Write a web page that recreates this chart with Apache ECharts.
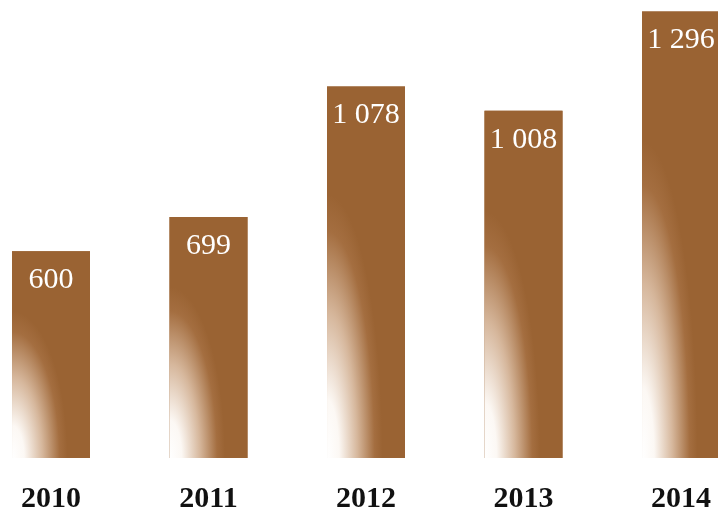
<!DOCTYPE html>
<html>
<head>
<meta charset="utf-8">
<script src="https://cdn.jsdelivr.net/npm/echarts@6/dist/echarts.min.js"></script>
<style>
html,body{margin:0;padding:0;background:#fff;}
#chart{width:718px;height:518px;}
</style>
</head>
<body>
<div id="chart"></div>
<script>
var categories = ['2010', '2011', '2012', '2013', '2014'];
var values = [600, 699, 1078, 1008, 1296];

var BROWN = '#9a6333';
var FONT = '"Liberation Serif", "Times New Roman", serif';

function fmt(v) {
  return String(v).replace(/\B(?=(\d{3})+(?!\d))/g, ' ');
}

var chart = echarts.init(document.getElementById('chart'));

function renderItem(params, api) {
  var idx = api.value(0);
  var val = api.value(1);
  var top = api.coord([idx, val]);
  var base = api.coord([idx, 0]);
  var bw = api.size([1, 0])[0] * 0.495;
  var x = top[0] - bw / 2;
  var y = top[1];
  var h = base[1] - top[1];
  var grad = new echarts.graphic.RadialGradient(0, 1, 0.71, [
    { offset: 0, color: '#ffffff' },
    { offset: 0.22, color: '#fcf8f4' },
    { offset: 0.55, color: '#d6b79c' },
    { offset: 0.86, color: '#a46e40' },
    { offset: 1, color: BROWN }
  ]);
  return {
    type: 'group',
    children: [
      { type: 'rect', shape: { x: x, y: y, width: bw, height: h }, style: { fill: BROWN } },
      { type: 'rect', x: x, y: y, scaleX: 1, scaleY: h / bw,
        shape: { x: 0, y: 0, width: bw, height: bw }, style: { fill: grad } },
      { type: 'text', style: { text: fmt(val), x: top[0], y: y + 14, align: 'center', verticalAlign: 'top',
        fill: '#ffffff', font: '30px ' + FONT } }
    ]
  };
}

// category i is centred at 51 + 157.5 * i pixels
var xMin = -51 / 157.5;
var xMax = xMin + 718 / 157.5;

chart.setOption({
  animation: false,
  grid: { left: 0, right: 0, top: 10, bottom: 60 },
  xAxis: {
    type: 'value',
    min: xMin,
    max: xMax,
    axisLine: { show: false },
    axisTick: { show: false },
    splitLine: { show: false },
    axisLabel: {
      customValues: categories.map(function (c, i) { return i; }),
      formatter: function (v) { return categories[Math.round(v)]; },
      margin: 26, color: '#111', fontSize: 30, fontWeight: 'bold', fontFamily: FONT
    }
  },
  yAxis: {
    type: 'value',
    min: 0, max: 1300,
    show: false,
    splitLine: { show: false }
  },
  series: [{
    type: 'custom',
    renderItem: renderItem,
    clip: false,
    encode: { x: 0, y: 1 },
    data: values.map(function (v, i) { return [i, v]; })
  }]
});
</script>
</body>
</html>
